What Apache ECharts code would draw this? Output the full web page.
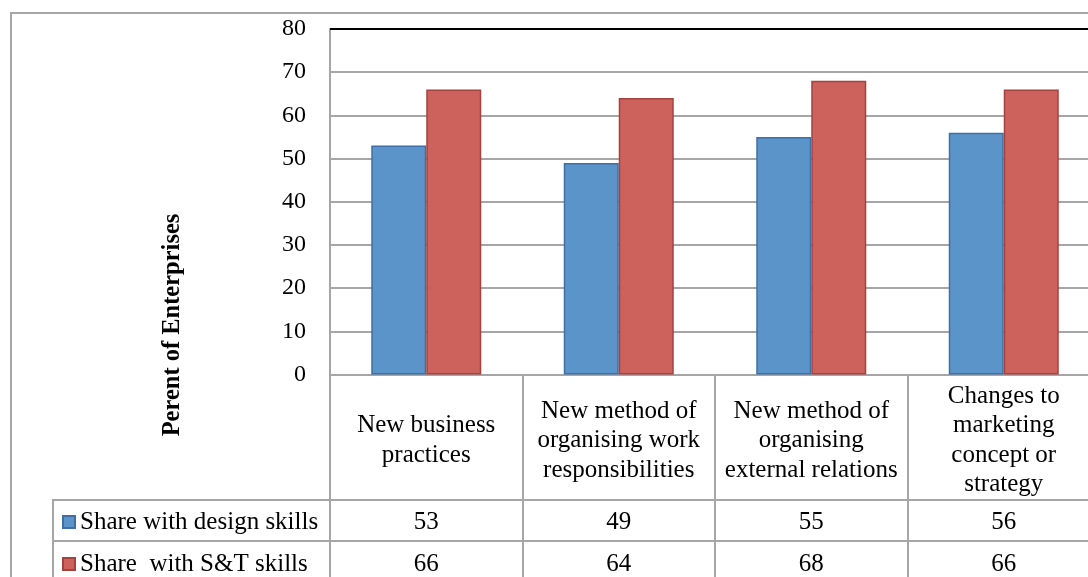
<!DOCTYPE html>
<html>
<head>
<meta charset="utf-8">
<script src="https://cdn.jsdelivr.net/npm/echarts@6/dist/echarts.min.js"></script>
<style>
html,body{margin:0;padding:0;background:#fff;overflow:hidden;}
#chart{width:1100px;height:577px;}
</style>
</head>
<body>
<div id="chart"></div>
<script>
const categories = [
  "New business\npractices",
  "New method of\norganising work\nresponsibilities",
  "New method of\norganising\nexternal relations",
  "Changes to\nmarketing\nconcept or\nstrategy"
];
const seriesNames = ["Share with design skills", "Share  with S&T skills"];
const designSkills = [53, 49, 55, 56];
const stSkills = [66, 64, 68, 66];
const yTicks = { min: 0, max: 80, interval: 10 };
const yTitle = "Perent of Enterprises";

const FONT = "Liberation Serif";
const GRID = "#a6a6a6";
const chart = echarts.init(document.getElementById('chart'), null, {renderer: 'canvas'});

function legendFor(i, top) {
  return {
    orient: 'vertical', left: 62, top: top, padding: 0, itemWidth: 12, itemHeight: 12,
    icon: 'rect', selectedMode: false,
    textStyle: { fontFamily: FONT, fontSize: 25, color: '#000', lineHeight: 26 },
    data: [seriesNames[i]]
  };
}

const option = {
  animation: false,
  grid: { left: 330, right: 0, top: 29, bottom: 202, containLabel: false },
  legend: [legendFor(0, 509), legendFor(1, 551)],
  xAxis: [
    {
      type: 'category', data: categories, position: 'bottom',
      axisLine: { show: true, lineStyle: { color: GRID, width: 2 } },
      axisTick: { show: true, length: 220, interval: 0, lineStyle: { color: GRID, width: 2 } },
      axisLabel: { interval: 0, margin: 66, verticalAlign: 'middle', fontFamily: FONT, fontSize: 25, lineHeight: 29.5, color: '#000' }
    },
    {
      type: 'category', data: designSkills.map(String), position: 'bottom', offset: 125,
      axisLine: { show: true, lineStyle: { color: GRID, width: 2 } },
      axisTick: { show: false },
      axisLabel: { interval: 0, margin: 23, verticalAlign: 'middle', fontFamily: FONT, fontSize: 25, color: '#000' }
    },
    {
      type: 'category', data: stSkills.map(String), position: 'bottom', offset: 166,
      axisLine: { show: true, lineStyle: { color: GRID, width: 2 } },
      axisTick: { show: false },
      axisLabel: { interval: 0, margin: 24, verticalAlign: 'middle', fontFamily: FONT, fontSize: 25, color: '#000' }
    }
  ],
  yAxis: {
    type: 'value', min: yTicks.min, max: yTicks.max, interval: yTicks.interval,
    axisLine: { show: true, lineStyle: { color: GRID, width: 2 } },
    axisTick: { show: false },
    splitLine: { show: true, lineStyle: { color: GRID, width: 2 } },
    axisLabel: { margin: 24, fontFamily: FONT, fontSize: 24, color: '#000', padding: [6, 0, 0, 0] }
  },
  series: [
    {
      name: seriesNames[0], type: 'bar', data: designSkills, barWidth: 55, barGap: '0%',
      itemStyle: { color: '#5b94c9', borderColor: '#3f6fa6', borderWidth: 1.5 },
      markLine: {
        silent: true, symbol: 'none', label: { show: false },
        lineStyle: { color: '#000', width: 2, type: 'solid' },
        data: [{ yAxis: yTicks.max }]
      }
    },
    {
      name: seriesNames[1], type: 'bar', data: stSkills, barWidth: 55,
      itemStyle: { color: '#cd625c', borderColor: '#a5423e', borderWidth: 1.5 }
    }
  ],
  graphic: [
    { type: 'rect', silent: true, shape: { x: 11, y: 13, width: 2000, height: 1000 },
      style: { fill: 'none', stroke: GRID, lineWidth: 2 } },
    { type: 'line', silent: true, shape: { x1: 53, y1: 500, x2: 331, y2: 500 }, style: { stroke: GRID, lineWidth: 2 } },
    { type: 'line', silent: true, shape: { x1: 53, y1: 541, x2: 331, y2: 541 }, style: { stroke: GRID, lineWidth: 2 } },
    { type: 'line', silent: true, shape: { x1: 53, y1: 499, x2: 53, y2: 600 }, style: { stroke: GRID, lineWidth: 2 } },
    { type: 'text', silent: true, x: 173, y: 325, rotation: Math.PI / 2,
      style: { text: yTitle, fontFamily: FONT, fontSize: 24.5, fontWeight: 'bold', fill: '#000',
               textAlign: 'center', textVerticalAlign: 'middle', align: 'center', verticalAlign: 'middle' } }
  ]
};
chart.setOption(option);
</script>
</body>
</html>
